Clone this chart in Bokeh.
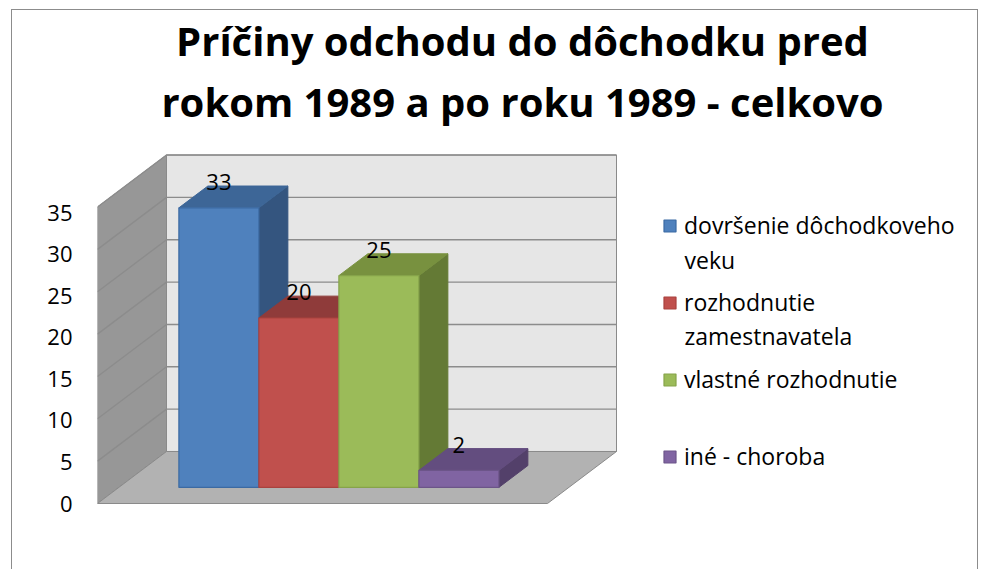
from bokeh.plotting import figure
from bokeh.models import Range1d, LinearAxis, FixedTicker, Label, Legend, LegendItem, ColumnDataSource
from bokeh.core.properties import value
from bokeh.embed import file_html
from bokeh.resources import INLINE

# ---------------- data ----------------
title_lines = ["Príčiny odchodu do dôchodku pred", "rokom 1989 a po roku 1989 - celkovo"]
categories = ["dovršenie dôchodkoveho veku", "rozhodnutie zamestnavatela",
              "vlastné rozhodnutie", "iné - choroba"]
legend_first_lines = ["dovršenie dôchodkoveho", "rozhodnutie", "vlastné rozhodnutie", "iné - choroba"]
legend_second_lines = ["veku", "zamestnavatela", "", ""]
values = [33, 20, 25, 2]
y_ticks = [0, 5, 10, 15, 20, 25, 30, 35]

# ---------------- styles ----------------
front_colors = ["#4f81bd", "#c0504d", "#9bbb59", "#8064a2"]
top_colors = ["#3d6697", "#8f3b3a", "#78913f", "#634d7f"]
side_colors = ["#34557f", "#7b3331", "#647a35", "#53406a"]
edge_colors = ["#3b6aa3", "#a9423f", "#86a34a", "#6c5589"]
FONT = "Open Sans"

W, H = 967, 560
FRAME_LEFT = 85
PX_X = 80.0          # px per category width
PX_Y = 8.47          # px per value unit
AX_PX_Y = 8.314      # px per unit of the axis labels
Y0 = 493             # canvas y of value 0 (front)
DX, DY = 0.8625, 6.14  # floor depth (x in category widths, y in value units)
FL, FR = -0.75, 4.875  # floor extent (front edge)
D0, D1 = 0.31, 0.73    # bar depth span (fraction of floor depth)
YMAX = y_ticks[-1]

def sy(canvas_y):
    # screen y measured from the frame bottom
    return H - canvas_y

p = figure(width=W, height=H, output_backend="svg", toolbar_location=None,
           x_range=Range1d(FL, FL + (W - FRAME_LEFT) / PX_X),
           y_range=Range1d(-(H - Y0) / PX_Y, Y0 / PX_Y),
           min_border_left=FRAME_LEFT, min_border_right=0, min_border_top=0, min_border_bottom=0,
           x_axis_location=None, y_axis_location=None)
p.grid.visible = False
p.outline_line_color = None
p.background_fill_color = "white"
p.border_fill_color = "white"
p.styles = {"border-top": "1px solid #8c8c8c", "border-left": "1px solid #8c8c8c",
            "border-right": "1px solid #8c8c8c", "margin-left": "11px", "margin-top": "9px"}

p.extra_y_ranges = {"ax": Range1d(-(H - Y0) / AX_PX_Y, Y0 / AX_PX_Y)}
ax = LinearAxis(y_range_name="ax", ticker=FixedTicker(ticks=y_ticks),
                axis_line_color=None, major_tick_line_color=None, minor_tick_line_color=None,
                major_tick_in=0, major_tick_out=0,
                major_label_text_font=FONT, major_label_text_font_size="22px",
                major_label_text_color="black", major_label_standoff=25)
p.add_layout(ax, "left")

wall_line = "#8a8a8a"
# side wall, back wall, floor
p.patch([FL, FL + DX, FL + DX, FL], [0, DY, DY + YMAX, YMAX],
        fill_color="#979797", line_color=wall_line, line_width=1)
p.patch([FL + DX, FR + DX, FR + DX, FL + DX], [DY, DY, DY + YMAX, DY + YMAX],
        fill_color="#e6e6e6", line_color=wall_line, line_width=1)
p.patch([FL, FR, FR + DX, FL + DX], [0, 0, DY, DY],
        fill_color="#b2b2b2", line_color=wall_line, line_width=1)

# gridlines
gx, gy = [], []
for t in y_ticks[1:]:
    gx.append([FL, FL + DX, FR + DX])
    gy.append([t, DY + t, DY + t])
p.multi_line(gx, gy, line_color="#8c8c8c", line_width=1.4)

# bars
ox0, oy0 = D0 * DX, D0 * DY
ox1, oy1 = D1 * DX, D1 * DY
fronts = []
for i, v in enumerate(values):
    x0, x1 = i, i + 1
    p.patch([x1 + ox0, x1 + ox1, x1 + ox1, x1 + ox0], [oy0, oy1, v + oy1, v + oy0],
            fill_color=side_colors[i], line_color=side_colors[i], line_width=1)
    p.patch([x0 + ox0, x1 + ox0, x1 + ox1, x0 + ox1], [v + oy0, v + oy0, v + oy1, v + oy1],
            fill_color=top_colors[i], line_color=top_colors[i], line_width=1)
    src = ColumnDataSource(dict(left=[x0 + ox0], right=[x1 + ox0], bottom=[oy0], top=[v + oy0]))
    r = p.quad(left="left", right="right", bottom="bottom", top="top", source=src,
               fill_color=front_colors[i], line_color=edge_colors[i], line_width=1.2)
    fronts.append(r)

# data labels
lab = ColumnDataSource(dict(x=[i + 0.5 + ox0 for i in range(len(values))],
                            y=[v + oy1 for v in values],
                            t=[str(v) for v in values]))
p.text(x="x", y="y", text="t", source=lab, text_align="center", text_baseline="middle",
       y_offset=-4, text_font=value(FONT), text_font_size="22px", text_color="black")

# legend (first lines with swatches, continuation lines as labels)
LEG_PITCH = 76
legend = Legend(items=[LegendItem(label=legend_first_lines[i], renderers=[fronts[i]])
                       for i in range(len(values))],
                location=(565, sy(462)), glyph_width=15, glyph_height=15,
                label_text_font=FONT, label_text_font_size="23px", label_standoff=7,
                label_text_color="black", label_height=31, spacing=LEG_PITCH - 31,
                padding=0, margin=0, border_line_color=None, background_fill_alpha=0)
p.add_layout(legend)
for i, extra in enumerate(legend_second_lines):
    if extra:
        p.add_layout(Label(x=587, y=sy(249 + i * LEG_PITCH), x_units="screen", y_units="screen",
                           text=extra, text_align="left", text_baseline="middle",
                           text_font=FONT, text_font_size="23px", text_color="black"))

# title
for line, cy in zip(title_lines, [30, 91]):
    p.add_layout(Label(x=425, y=sy(cy), x_units="screen", y_units="screen", text=line,
                       text_align="center", text_baseline="middle", text_font=FONT,
                       text_font_style="bold", text_font_size="40px", text_color="black"))

open("out.html", "w").write(file_html(p, INLINE))
